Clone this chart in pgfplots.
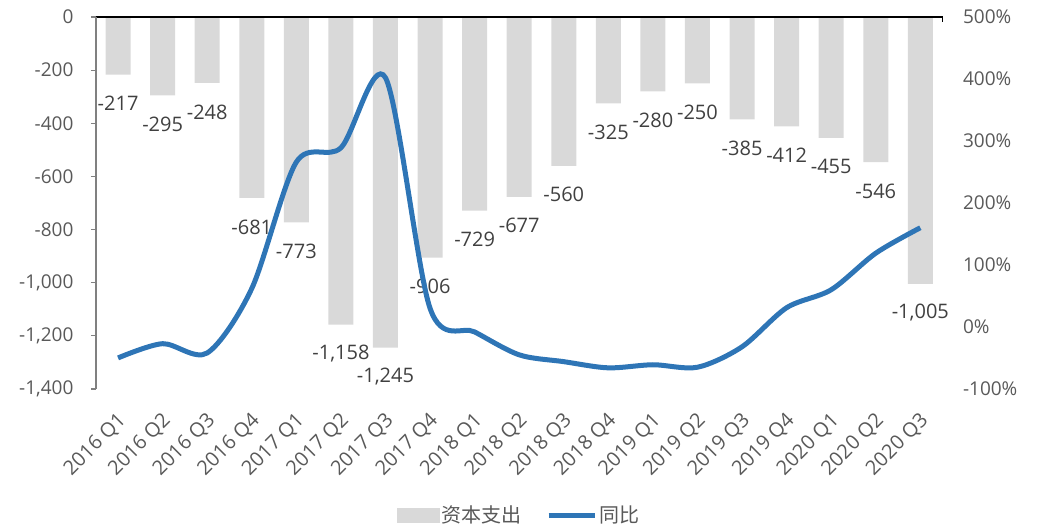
\documentclass[border=0pt]{standalone}
\usepackage{pgfplots}
\pgfplotsset{compat=1.18}
\usepackage{fontspec}
\setmainfont{Open Sans}
\newfontfamily\cjk{Noto Sans CJK SC}
\definecolor{bargray}{HTML}{D9D9D9}
\definecolor{lineblue}{HTML}{2E75B6}
\definecolor{ticktext}{HTML}{595959}
\definecolor{labeltext}{HTML}{404040}
\begin{document}
\begin{tikzpicture}
\begin{axis}[
  scale only axis,
  width=423.5pt, height=186pt,
  xmin=-0.5, xmax=18.5,
  ymin=-1400, ymax=0,
  ytick={-1400,-1200,...,0},
  scaled y ticks=false,
  /pgf/number format/assume math mode=true,
  /pgf/number format/1000 sep={,},
  axis line style={draw=none},
  xtick={0,...,18},
  xticklabels={2016 Q1,2016 Q2,2016 Q3,2016 Q4,2017 Q1,2017 Q2,2017 Q3,2017 Q4,2018 Q1,2018 Q2,2018 Q3,2018 Q4,2019 Q1,2019 Q2,2019 Q3,2019 Q4,2020 Q1,2020 Q2,2020 Q3},
  extra x ticks={18.5}, extra x tick labels={},
  xtick pos=right, xticklabel pos=left,
  ytick pos=left,
  tick align=inside,
  major tick length=2.5pt,
  major x tick style={draw=black, line width=0.5pt},
  major y tick style={draw=gray, line width=0.6pt, xshift=-2.5pt},
  x tick label style={font=\fontsize{10}{11}\selectfont, text=ticktext, xshift=2.5pt, yshift=-14pt, rotate=45, anchor=east, inner sep=0pt},
  y tick label style={font=\fontsize{9.5}{10}\selectfont, text=ticktext, anchor=east, inner sep=0pt, xshift=-11pt},
  nodes near coords,
  every node near coord/.append style={font=\fontsize{10}{11}\selectfont, text=labeltext, anchor=center, yshift=-14.5pt, inner sep=0pt},
  clip=false,
]
\addplot[ybar, bar width=12.5pt, fill=bargray, draw=none] coordinates {
(0,-217) (1,-295) (2,-248) (3,-681) (4,-773) (5,-1158) (6,-1245) (7,-906) (8,-729) (9,-677)
(10,-560) (11,-325) (12,-280) (13,-250) (14,-385) (15,-412) (16,-455) (17,-546) (18,-1005)};
\draw[black, line width=0.6pt] (rel axis cs:0,1) -- (rel axis cs:1,1);
\draw[gray, line width=0.8pt] (rel axis cs:0,0) -- (rel axis cs:0,1);
\end{axis}
\begin{axis}[
  scale only axis,
  width=423.5pt, height=186pt,
  xmin=-0.5, xmax=18.5,
  ymin=-100, ymax=500,
  ytick={-100,0,...,500},
  axis x line=none,
  axis y line*=right,
  axis line style={draw=none},
  ytick style={draw=none},
  /pgf/number format/assume math mode=true,
  yticklabel={\pgfmathprintnumber{\tick}\%},
  y tick label style={font=\fontsize{9.5}{10}\selectfont, text=ticktext, anchor=west, inner sep=0pt, xshift=10pt},
  legend style={at={(0.5,-0.34)}, anchor=center, draw=none, legend columns=2,
    font=\cjk\fontsize{10}{11}\selectfont, text=ticktext,
    nodes={inner sep=1.2pt},
    /tikz/every even column/.append style={column sep=11pt}},
  legend cell align=left,
]
\addlegendimage{legend image code/.code={\fill[bargray] (0pt,-3.3pt) rectangle (21pt,3.3pt);}}
\addlegendentry{资本支出}
\addplot[lineblue, line width=2.5pt, smooth, legend image code/.code={\draw[lineblue, line width=2.5pt] (0pt,0pt) -- (23pt,0pt);}] coordinates {
(0,-50) (1,-27) (2,-42) (3,62) (4,266) (5,289) (6,402) (7,30) (8,-8) (9,-45)
(10,-56) (11,-66) (12,-61) (13,-65) (14,-32) (15,31) (16,60) (17,119) (18,160)};
\addlegendentry{同比}
\end{axis}
\pgfresetboundingbox
\path[use as bounding box] ([shift={(-47.9pt,-70pt)}]current axis.south west) rectangle ([shift={(47.7pt,8.5pt)}]current axis.north east);
\end{tikzpicture}
\end{document}
